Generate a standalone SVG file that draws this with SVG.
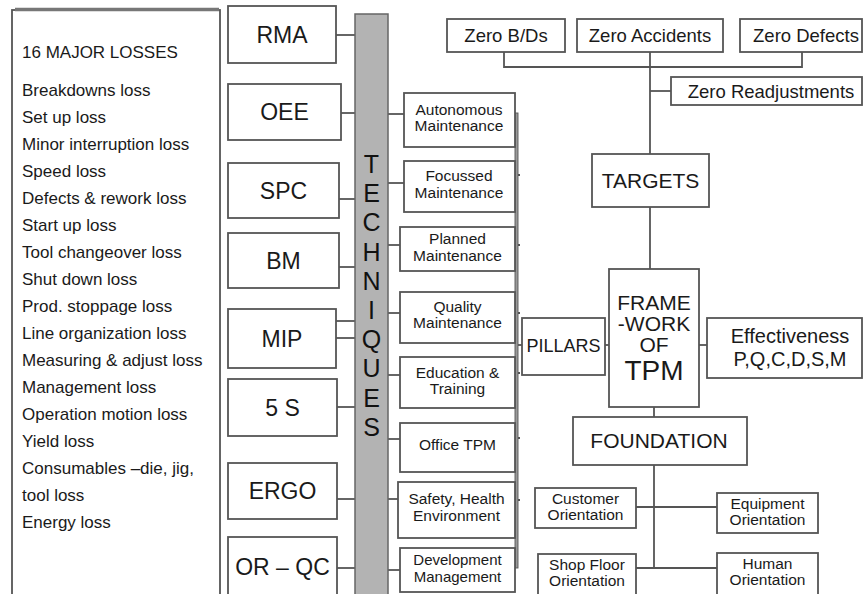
<svg xmlns="http://www.w3.org/2000/svg" width="864" height="594" viewBox="0 0 864 594">
<style>
text{font-family:"Liberation Sans",Arial,sans-serif;fill:#1a1a1a;}
.box{fill:#fff;stroke:#555;stroke-width:1.8;}
.ln{stroke:#555;stroke-width:1.8;fill:none;}
.loss{font-size:17px;}
.tech{font-size:23px;text-anchor:middle;}
.pil{font-size:15.5px;text-anchor:middle;}
.zero{font-size:18.5px;text-anchor:middle;}
.big{font-size:21px;text-anchor:middle;}
.ori{font-size:15.5px;text-anchor:middle;}
.vl{font-size:25px;text-anchor:middle;fill:#111;}
</style>
<rect width="864" height="594" fill="#fff"/>

<g id="losses">
<rect class="box" x="12" y="10" width="208" height="590"/>
<line x1="15" y1="9.5" x2="219" y2="9.5" stroke="#777" stroke-width="3.5"/>
<text class="loss" x="22" y="58">16 MAJOR LOSSES</text>
<text class="loss" x="22" y="96">Breakdowns loss</text>
<text class="loss" x="22" y="123">Set up loss</text>
<text class="loss" x="22" y="150">Minor interruption loss</text>
<text class="loss" x="22" y="177">Speed loss</text>
<text class="loss" x="22" y="204">Defects &amp; rework loss</text>
<text class="loss" x="22" y="231">Start up loss</text>
<text class="loss" x="22" y="258">Tool changeover loss</text>
<text class="loss" x="22" y="285">Shut down loss</text>
<text class="loss" x="22" y="312">Prod. stoppage loss</text>
<text class="loss" x="22" y="339">Line organization loss</text>
<text class="loss" x="22" y="366">Measuring &amp; adjust loss</text>
<text class="loss" x="22" y="393">Management loss</text>
<text class="loss" x="22" y="420">Operation motion loss</text>
<text class="loss" x="22" y="447">Yield loss</text>
<text class="loss" x="22" y="474">Consumables –die, jig,</text>
<text class="loss" x="22" y="501">tool loss</text>
<text class="loss" x="22" y="528">Energy loss</text>
</g>

<g id="connectors">
<line class="ln" x1="336" y1="35" x2="355" y2="35"/>
<line class="ln" x1="341" y1="113" x2="355" y2="113"/>
<line class="ln" x1="339" y1="199" x2="355" y2="199"/>
<line class="ln" x1="339" y1="267" x2="355" y2="267"/>
<line class="ln" x1="336" y1="321" x2="355" y2="321"/>
<line class="ln" x1="336" y1="338" x2="355" y2="338"/>
<line class="ln" x1="337" y1="407" x2="355" y2="407"/>
<line class="ln" x1="337" y1="499" x2="355" y2="499"/>
<line class="ln" x1="337" y1="568" x2="355" y2="568"/>
<line class="ln" x1="388" y1="114" x2="404" y2="114"/>
<line class="ln" x1="388" y1="183" x2="404" y2="183"/>
<line class="ln" x1="388" y1="245" x2="400" y2="245"/>
<line class="ln" x1="388" y1="313" x2="400" y2="313"/>
<line class="ln" x1="388" y1="375" x2="400" y2="375"/>
<line class="ln" x1="388" y1="439" x2="400" y2="439"/>
<line class="ln" x1="388" y1="499" x2="398" y2="499"/>
<line class="ln" x1="388" y1="570" x2="400" y2="570"/>
<rect x="515" y="113" width="3" height="455" fill="#999" stroke="#555" stroke-width="0.9"/>
<line class="ln" x1="518" y1="175" x2="520" y2="175"/>
<line class="ln" x1="518" y1="245" x2="520" y2="245"/>
<line class="ln" x1="518" y1="313" x2="520" y2="313"/>
<line class="ln" x1="518" y1="373" x2="520" y2="373"/>
<line class="ln" x1="518" y1="438" x2="520" y2="438"/>
<line class="ln" x1="518" y1="500" x2="520" y2="500"/>
<line class="ln" x1="518" y1="345" x2="522" y2="345"/>
<line class="ln" x1="605" y1="345" x2="609" y2="345"/>
<line class="ln" x1="699" y1="345" x2="707" y2="345"/>
<polyline class="ln" points="504,52 504,67 802,67 802,52"/>
<line class="ln" x1="650" y1="52" x2="650" y2="154"/>
<line class="ln" x1="650" y1="91" x2="671" y2="91"/>
<line class="ln" x1="650" y1="207" x2="650" y2="269"/>
<line class="ln" x1="654" y1="407" x2="654" y2="417"/>
<line class="ln" x1="654" y1="465" x2="654" y2="568"/>
<line class="ln" x1="636" y1="507" x2="717" y2="507"/>
<line class="ln" x1="636" y1="568" x2="717" y2="568"/>
</g>

<g id="techniques-bar">
<rect x="355" y="14" width="33" height="586" fill="#b3b3b3" stroke="#666" stroke-width="1.5"/>
<text class="vl" x="371.5" y="173">T</text>
<text class="vl" x="371.5" y="202">E</text>
<text class="vl" x="371.5" y="231">C</text>
<text class="vl" x="371.5" y="261">H</text>
<text class="vl" x="371.5" y="290">N</text>
<text class="vl" x="371.5" y="319">I</text>
<text class="vl" x="371.5" y="348">Q</text>
<text class="vl" x="371.5" y="377">U</text>
<text class="vl" x="371.5" y="407">E</text>
<text class="vl" x="371.5" y="436">S</text>
</g>

<g id="rma"><rect class="box" x="228" y="6" width="108" height="57"/><text class="tech" x="282" y="43">RMA</text></g>
<g id="oee"><rect class="box" x="228" y="84" width="113" height="56"/><text class="tech" x="284.5" y="120">OEE</text></g>
<g id="spc"><rect class="box" x="228" y="163" width="111" height="55"/><text class="tech" x="283.5" y="199">SPC</text></g>
<g id="bm"><rect class="box" x="228" y="233" width="111" height="55"/><text class="tech" x="283.5" y="269">BM</text></g>
<g id="mip"><rect class="box" x="228" y="309" width="108" height="59"/><text class="tech" x="282" y="347">MIP</text></g>
<g id="fives"><rect class="box" x="228" y="379" width="109" height="57"/><text class="tech" x="282.5" y="416">5 S</text></g>
<g id="ergo"><rect class="box" x="228" y="463" width="109" height="56"/><text class="tech" x="282.5" y="499">ERGO</text></g>
<g id="orqc"><rect class="box" x="228" y="537" width="109" height="62"/><text class="tech" x="282.5" y="575">OR – QC</text></g>

<g id="autonomous"><rect class="box" x="404" y="93" width="111" height="54"/><text class="pil" x="459" y="115">Autonomous</text><text class="pil" x="459" y="131">Maintenance</text></g>
<g id="focussed"><rect class="box" x="404" y="161" width="111" height="51"/><text class="pil" x="459" y="181">Focussed</text><text class="pil" x="459" y="198">Maintenance</text></g>
<g id="planned"><rect class="box" x="400" y="227" width="115" height="44"/><text class="pil" x="457.5" y="244">Planned</text><text class="pil" x="457.5" y="261">Maintenance</text></g>
<g id="quality"><rect class="box" x="400" y="292" width="115" height="51"/><text class="pil" x="457.5" y="312">Quality</text><text class="pil" x="457.5" y="328">Maintenance</text></g>
<g id="education"><rect class="box" x="400" y="357" width="115" height="51"/><text class="pil" x="457.5" y="378">Education &amp;</text><text class="pil" x="457.5" y="394">Training</text></g>
<g id="office"><rect class="box" x="400" y="423" width="115" height="49"/><text class="pil" x="457.5" y="450">Office TPM</text></g>
<g id="safety"><rect class="box" x="398" y="482" width="117" height="56"/><text class="pil" x="456.5" y="504">Safety, Health</text><text class="pil" x="456.5" y="521">Environment</text></g>
<g id="development"><rect class="box" x="400" y="548" width="115" height="44"/><text class="pil" x="457.5" y="565" style="font-size:15px">Development</text><text class="pil" x="457.5" y="582" style="font-size:15px">Management</text></g>

<g id="zero-bds"><rect class="box" x="447" y="19" width="118" height="33"/><text class="zero" x="506" y="42">Zero B/Ds</text></g>
<g id="zero-accidents"><rect class="box" x="577" y="19" width="146" height="33"/><text class="zero" x="650" y="42">Zero Accidents</text></g>
<g id="zero-defects"><rect class="box" x="740" y="19" width="122" height="33"/><text class="zero" x="806" y="42">Zero Defects</text></g>
<g id="zero-readj"><rect class="box" x="671" y="77" width="191" height="28"/><text class="zero" x="771" y="98">Zero Readjustments</text></g>
<g id="targets"><rect class="box" x="592" y="154" width="117" height="53"/><text class="big" x="650.5" y="188">TARGETS</text></g>
<g id="framework"><rect class="box" x="609" y="269" width="90" height="138"/>
<text class="big" x="654" y="310">FRAME</text>
<text class="big" x="654" y="331">-WORK</text>
<text class="big" x="654" y="352">OF</text>
<text x="654" y="380" style="font-size:28px;text-anchor:middle">TPM</text></g>
<g id="pillars"><rect class="box" x="522" y="318" width="83" height="57"/><text x="563.5" y="352" style="font-size:18px;text-anchor:middle">PILLARS</text></g>
<g id="effectiveness"><rect class="box" x="707" y="318" width="155" height="60"/><text class="big" x="790" y="343" style="font-size:20px">Effectiveness</text><text class="big" x="790" y="366" style="font-size:20px">P,Q,C,D,S,M</text></g>
<g id="foundation"><rect class="box" x="573" y="417" width="174" height="48"/><text class="big" x="659" y="448">FOUNDATION</text></g>
<g id="customer"><rect class="box" x="535" y="488" width="101" height="40"/><text class="ori" x="585.5" y="504">Customer</text><text class="ori" x="585.5" y="520">Orientation</text></g>
<g id="equipment"><rect class="box" x="717" y="493" width="101" height="40"/><text class="ori" x="767.5" y="509">Equipment</text><text class="ori" x="767.5" y="525">Orientation</text></g>
<g id="shopfloor"><rect class="box" x="538" y="554" width="98" height="45"/><text class="ori" x="587" y="570">Shop Floor</text><text class="ori" x="587" y="586">Orientation</text></g>
<g id="human"><rect class="box" x="717" y="553" width="101" height="46"/><text class="ori" x="767.5" y="569">Human</text><text class="ori" x="767.5" y="585">Orientation</text></g>
</svg>
